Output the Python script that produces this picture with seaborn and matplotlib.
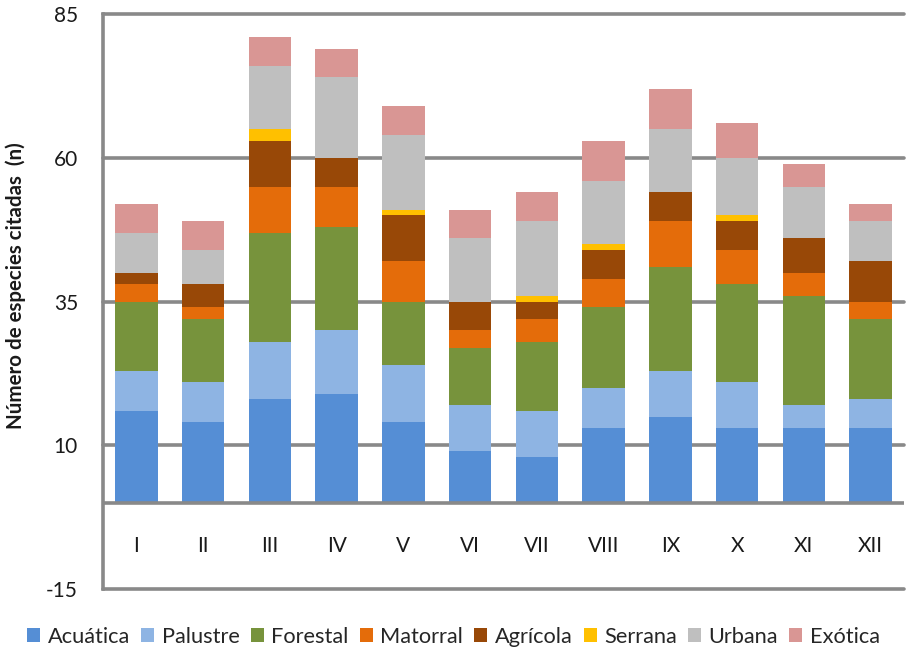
import numpy as np
import pandas as pd
import matplotlib.pyplot as plt
import seaborn as sns

# monthly counts per habitat group
meses = ['I', 'II', 'III', 'IV', 'V', 'VI', 'VII', 'VIII', 'IX', 'X', 'XI', 'XII']
acuatica = [16, 14, 18, 19, 14, 9, 8, 13, 15, 13, 13, 13]
palustre = [7, 7, 10, 11, 10, 8, 8, 7, 8, 8, 4, 5]
forestal = [12, 11, 19, 18, 11, 10, 12, 14, 18, 17, 19, 14]
matorral = [3, 2, 8, 7, 7, 3, 4, 5, 8, 6, 4, 3]
agricola = [2, 4, 8, 5, 8, 5, 3, 5, 5, 5, 6, 7]
serrana = [0, 0, 2, 0, 1, 0, 1, 1, 0, 1, 0, 0]
urbana = [7, 6, 11, 14, 13, 11, 13, 11, 11, 10, 9, 7]
exotica = [5, 5, 5, 5, 5, 5, 5, 7, 7, 6, 4, 3]

grupos = ['Acuática', 'Palustre', 'Forestal', 'Matorral', 'Agrícola', 'Serrana', 'Urbana', 'Exótica']
colores = ['#558ED5', '#8EB4E3', '#77933C', '#E46C0A', '#984807', '#FFC000', '#BFBFBF', '#D99694']
y_ticks = [-15, 10, 35, 60, 85]

df = pd.DataFrame({'mes': meses, 'Acuática': acuatica, 'Palustre': palustre,
                   'Forestal': forestal, 'Matorral': matorral, 'Agrícola': agricola,
                   'Serrana': serrana, 'Urbana': urbana, 'Exótica': exotica})
# stacked bars = cumulative sums drawn from tallest to shortest
cum = df[grupos].cumsum(axis=1)
cum['mes'] = meses

sns.set_theme(style='white')
plt.rcParams['font.family'] = ['Lato', 'DejaVu Sans']
plt.rcParams['axes.unicode_minus'] = False

grid_col = '#898989'
fig = plt.figure(figsize=(9.07, 6.51), dpi=100)
ax = fig.add_axes([103 / 907, 1 - 589 / 651, (904 - 103) / 907, (589 - 14) / 651])

for g, c in zip(grupos[::-1], colores[::-1]):
    sns.barplot(data=cum, x='mes', y=g, color=c, saturation=1, width=0.64,
                errorbar=None, label=g, ax=ax, linewidth=0, zorder=2)

ax.set_xlim(-0.5, 11.5)
ax.set_ylim(-15, 85)
ax.set_yticks(y_ticks)
ax.yaxis.grid(True, color=grid_col, lw=2.6, zorder=1)
for ln in ax.get_ygridlines():
    ln.set_clip_on(False)
ax.axhline(0, color=grid_col, lw=2.6, zorder=3)

for s in ['top', 'right', 'bottom']:
    ax.spines[s].set_visible(False)
ax.spines['left'].set_color(grid_col)
ax.spines['left'].set_linewidth(2.6)

ax.tick_params(axis='y', length=0, pad=18, labelsize=15, colors='#1a1a1a')
ax.tick_params(axis='x', length=0, pad=-38, labelsize=15, colors='#1a1a1a')
ax.set_xlabel('')
ax.set_ylabel('Número de especies citadas  (n)', fontsize=14.8, fontweight='bold',
              color='#1a1a1a')
ax.yaxis.set_label_coords(-0.096, 0.527)

h, l = ax.get_legend_handles_labels()
ax.get_legend().remove()
fig.legend(h[::-1], l[::-1], loc='center', bbox_to_anchor=(0.5, 1 - 637 / 651),
           ncol=8, frameon=False, fontsize=15.7, handlelength=0.6, handleheight=0.6,
           handletextpad=0.35, columnspacing=0.5)

fig.savefig('out.png', dpi=100)
